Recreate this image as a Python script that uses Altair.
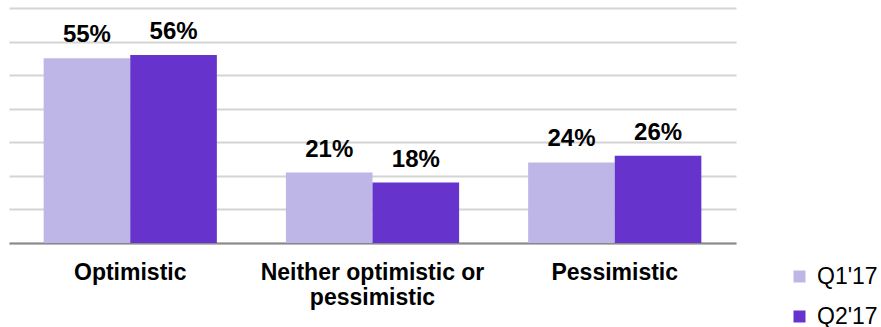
import altair as alt
import pandas as pd

# Survey outlook, share of respondents per answer and quarter
categories = ["Optimistic", "Neither optimistic or pessimistic", "Pessimistic"]
series = ["Q1'17", "Q2'17"]
q1_values = [55, 21, 24]
q2_values = [56, 18, 26]
colors = ["#bdb6e7", "#6633cc"]

# Two-line axis labels
wrapped = {"Neither optimistic or pessimistic": ["Neither optimistic or", "pessimistic"]}

FONT = "Liberation Sans, Arial, Helvetica, sans-serif"

rows = []
for cat, a, b in zip(categories, q1_values, q2_values):
    rows.append({"category": cat, "series": series[0], "value": a})
    rows.append({"category": cat, "series": series[1], "value": b})
df = pd.DataFrame(rows)
df["label"] = df["value"].astype(str) + "%"

label_expr = "datum.label"
for full, lines in wrapped.items():
    arr = "[" + ", ".join("'" + s + "'" for s in lines) + "]"
    label_expr = f"datum.label == '{full}' ? {arr} : " + label_expr

x_enc = alt.X(
    "category:N",
    sort=categories,
    scale=alt.Scale(paddingInner=0.285, paddingOuter=0.143),
    axis=alt.Axis(
        title=None,
        labelAngle=0,
        labelFont=FONT,
        labelFontSize=23,
        labelFontWeight="bold",
        labelColor="#000000",
        labelPadding=18,
        labelLimit=400,
        labelLineHeight=25,
        labelExpr=label_expr,
        ticks=False,
        tickSize=0,
        domainColor="#898989",
        domainWidth=2,
        grid=False,
    ),
)
xoff_enc = alt.XOffset("series:N", sort=series, scale=alt.Scale(paddingInner=0, paddingOuter=0))
y_enc = alt.Y(
    "value:Q",
    scale=alt.Scale(domain=[0, 70], nice=False),
    axis=alt.Axis(
        title=None,
        labels=False,
        ticks=False,
        domain=False,
        values=list(range(0, 80, 10)),
        gridColor="#d4d4d4",
        gridWidth=2,
    ),
)

bars = alt.Chart(df).mark_bar().encode(
    x=x_enc,
    xOffset=xoff_enc,
    y=y_enc,
    color=alt.Color(
        "series:N",
        sort=series,
        scale=alt.Scale(domain=series, range=colors),
        legend=alt.Legend(
            title=None,
            orient="none",
            legendX=779,
            legendY=257,
            padding=0,
            symbolType="square",
            symbolSize=144,
            symbolStrokeWidth=0,
            labelFont=FONT,
            labelFontSize=23,
            labelColor="#000000",
            labelOffset=6,
            rowPadding=16,
        ),
    ),
)

labels = alt.Chart(df).mark_text(
    dy=-16,
    fontSize=24,
    fontWeight="bold",
    font=FONT,
    color="#000000",
    baseline="alphabetic",
).encode(
    x=x_enc,
    xOffset=xoff_enc,
    y=y_enc,
    text="label:N",
)

chart = (
    alt.layer(bars, labels)
    .properties(
        width=727,
        height=235,
        background="#ffffff",
        autosize=alt.AutoSizeParams(type="none"),
        padding={"left": 9, "top": 8, "right": 145, "bottom": 84},
    )
    .configure_view(strokeWidth=0, stroke="transparent")
)

chart.save("out.html", embed_options={"renderer": "svg", "actions": False})
